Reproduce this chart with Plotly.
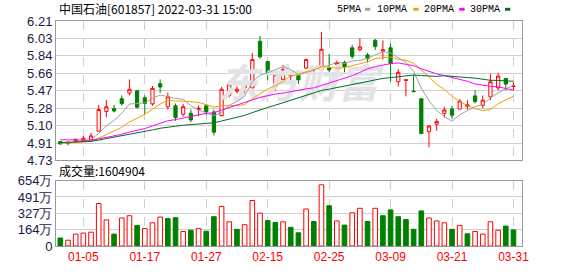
import plotly.graph_objects as go

# ---------------- data ----------------
dates = ["12-30", "12-31", "01-04", "01-05", "01-06", "01-07", "01-10", "01-11", "01-12", "01-13",
         "01-14", "01-17", "01-18", "01-19", "01-20", "01-21", "01-24", "01-25", "01-26", "01-27",
         "01-28", "02-07", "02-08", "02-09", "02-10", "02-11", "02-14", "02-15", "02-16", "02-17",
         "02-18", "02-21", "02-22", "02-23", "02-24", "02-25", "02-28", "03-01", "03-02", "03-03",
         "03-04", "03-07", "03-08", "03-09", "03-10", "03-11", "03-14", "03-15", "03-16", "03-17",
         "03-18", "03-21", "03-22", "03-23", "03-24", "03-25", "03-28", "03-29", "03-30", "03-31"]

opens = [4.93, 4.91, 4.93, 4.94, 4.95, 5.04, 5.25, 5.28, 5.385, 5.445,
         5.47, 5.395, 5.33, 5.545, 5.30, 5.31, 5.22, 5.23, 5.27, 5.31,
         5.245, 5.205, 5.42, 5.465, 5.50, 5.50, 5.995, 5.78, 5.51, 5.59,
         5.625, 5.66, 5.71, 5.715, 5.69, 5.71, 5.75, 5.77, 5.925, 5.905,
         5.85, 6.005, 5.89, 5.925, 5.565, 5.58, 5.465, 5.385, 5.035, 5.115,
         5.23, 5.275, 5.275, 5.305, 5.415, 5.315, 5.405, 5.50, 5.60, 5.515]
highs = [4.935, 4.935, 4.96, 4.99, 5.025, 5.32, 5.37, 5.32, 5.42, 5.59,
         5.47, 5.42, 5.52, 5.59, 5.45, 5.335, 5.33, 5.27, 5.31, 5.33,
         5.27, 5.51, 5.56, 5.515, 5.56, 5.87, 6.05, 5.78, 5.675, 5.745,
         5.675, 5.685, 5.81, 5.725, 6.095, 5.86, 5.79, 5.79, 5.957, 6.025,
         5.87, 6.02, 6.005, 5.97, 5.70, 5.59, 5.64, 5.385, 5.105, 5.17,
         5.30, 5.31, 5.38, 5.37, 5.475, 5.42, 5.65, 5.66, 5.60, 5.56]
lows = [4.90, 4.89, 4.93, 4.935, 4.945, 5.04, 5.19, 5.24, 5.31, 5.42,
        5.28, 5.225, 5.31, 5.445, 5.27, 5.15, 5.195, 5.135, 5.20, 5.21,
        4.995, 5.20, 5.40, 5.44, 5.44, 5.49, 5.81, 5.585, 5.465, 5.55,
        5.54, 5.54, 5.70, 5.60, 5.665, 5.63, 5.72, 5.665, 5.808, 5.89,
        5.77, 5.90, 5.80, 5.565, 5.515, 5.41, 5.46, 5.015, 4.87, 5.045,
        5.185, 5.175, 5.275, 5.27, 5.335, 5.285, 5.37, 5.475, 5.475, 5.475]
closes = [4.905, 4.915, 4.955, 4.965, 4.99, 5.27, 5.30, 5.255, 5.335, 5.485,
          5.295, 5.335, 5.495, 5.51, 5.405, 5.185, 5.30, 5.16, 5.285, 5.245,
          5.03, 5.485, 5.535, 5.485, 5.525, 5.80, 5.83, 5.66, 5.64, 5.695,
          5.64, 5.585, 5.80, 5.70, 5.91, 5.69, 5.77, 5.725, 5.835, 5.935,
          5.81, 5.94, 5.905, 5.76, 5.665, 5.585, 5.46, 5.015, 5.095, 5.145,
          5.265, 5.21, 5.36, 5.32, 5.355, 5.37, 5.565, 5.625, 5.54, 5.52]

# closes of the sessions before the window (estimated from the starting MA levels)
prior_closes = [4.85, 4.86, 4.88, 4.87, 4.85, 4.86, 4.87, 4.86, 4.85, 4.87,
                4.97, 4.99, 4.98, 4.97, 4.99, 4.98, 4.97, 4.98, 4.99, 4.98,
                4.93, 4.92, 4.91, 4.92, 4.93, 4.92, 4.91, 4.92, 4.92]
prev_close = 4.93

# volume in 万 (10k lots)
volumes = [80, 58, 119, 129, 138, 425, 261, 119, 280, 303,
           206, 174, 232, 290, 274, 283, 145, 158, 174, 148,
           293, 396, 242, 167, 213, 455, 329, 254, 235, 242,
           187, 132, 370, 245, 612, 402, 251, 209, 332, 377,
           245, 377, 303, 361, 293, 264, 167, 351, 280, 251,
           232, 167, 206, 122, 145, 119, 242, 158, 199, 160.4904]
last_volume = 1604904

price_tickvals = [4.73, 4.915, 5.10, 5.285, 5.47, 5.655, 5.84, 6.025, 6.21]
price_ticktext = ["4.73", "4.91", "5.10", "5.28", "5.47", "5.66", "5.84", "6.03", "6.21"]
vol_tickvals = [0, 163.5, 327, 490.5, 654]
vol_ticktext = ["0", "164万", "327万", "491万", "654万"]
date_ticks = ["01-05", "01-17", "01-27", "02-15", "02-25", "03-09", "03-21", "03-31"]

ma_specs = [("5PMA", 5, "#a0a0a0"), ("10PMA", 10, "#f0a000"),
            ("20PMA", 20, "#ff00ff"), ("30PMA", 30, "#006b2e")]

RED = "#ff0000"
GREEN = "#008000"
LABEL = "#1a1a46"

# ---------------- figure ----------------
W, H = 578, 276
ML, MR, MT, MB = 56, 56, 21, 21
PW, PH = W - ML - MR, H - MT - MB


def px_x(px):
    return (px - ML) / PW


def px_y(py):
    return (H - MB - py) / PH


fig = go.Figure()

# watermark (behind the candles)
fig.add_trace(go.Scatter(x=[dates[31]], y=[5.50], mode="text", text=["<b><i>东方财富</i></b>"],
                         textfont=dict(family="Noto Sans CJK SC", size=40, color="#e3e3e7"),
                         xaxis="x", yaxis="y", hoverinfo="skip", showlegend=False))

fig.add_trace(go.Candlestick(
    x=dates, open=opens, high=highs, low=lows, close=closes,
    increasing=dict(line=dict(color=RED, width=1), fillcolor="white"),
    decreasing=dict(line=dict(color=GREEN, width=1), fillcolor=GREEN),
    whiskerwidth=0, xaxis="x", yaxis="y", showlegend=False))

series = prior_closes + closes
n0 = len(prior_closes)
for name, n, color in ma_specs:
    ma = [sum(series[n0 + i - n + 1:n0 + i + 1]) / n for i in range(len(closes))]
    fig.add_trace(go.Scatter(x=dates, y=ma, mode="lines", name=name,
                             line=dict(color=color, width=1),
                             xaxis="x", yaxis="y", showlegend=False))

ups = []
for i, c in enumerate(closes):
    pc = prev_close if i == 0 else closes[i - 1]
    ups.append(c >= pc)

fig.add_trace(go.Bar(
    x=dates, y=volumes, width=0.6,
    marker=dict(color=["white" if u else GREEN for u in ups],
                line=dict(color=[RED if u else GREEN for u in ups], width=1)),
    xaxis="x2", yaxis="y2", showlegend=False))

xr = [-0.56, 60.11]
common_x = dict(range=xr, type="category", categoryorder="array", categoryarray=dates,
                tickvals=date_ticks, showgrid=True,
                griddash="dash", gridcolor="#cfcfcf", gridwidth=1,
                showline=True, mirror=True, linecolor="#999999", linewidth=1,
                ticks="", zeroline=False, fixedrange=True)

annotations = [
    dict(text="中国石油[601857] 2022-03-31 15:00", x=px_x(57), y=px_y(8.5), xref="paper", yref="paper",
         xanchor="left", yanchor="middle", showarrow=False,
         font=dict(family="Noto Sans CJK SC", size=12, color="#000000")),
    dict(text="成交量:" + str(last_volume), x=px_x(57), y=px_y(176.5), xref="paper", yref="paper",
         xanchor="left", yanchor="middle", showarrow=False,
         font=dict(family="Noto Sans CJK SC", size=12, color="#000000")),
]
shapes = []
legend_pos = [(362.7, 365), (409.3, 413.3), (455.7, 459.3), (501.7, 505)]
for (name, n, color), (tx, sx) in zip(ma_specs, legend_pos):
    annotations.append(dict(text=name, x=px_x(tx), y=px_y(9), xref="paper", yref="paper",
                            xanchor="right", yanchor="middle", showarrow=False,
                            font=dict(family="Liberation Mono", size=10, color="#000000")))
    shapes.append(dict(type="rect", xref="paper", yref="paper",
                       x0=px_x(sx), x1=px_x(sx + 5.3), y0=px_y(10.3), y1=px_y(7.3),
                       fillcolor=color, line=dict(width=0)))

fig.update_layout(
    width=W, height=H, margin=dict(l=ML, r=MR, t=MT, b=MB),
    paper_bgcolor="white", plot_bgcolor="white", showlegend=False,
    boxgap=0.4,
    xaxis=dict(common_x, anchor="y", showticklabels=False, rangeslider=dict(visible=False)),
    xaxis2=dict(common_x, anchor="y2", showticklabels=True,
                tickfont=dict(family="Liberation Sans", size=12, color=RED)),
    yaxis=dict(domain=[px_y(166), 1], range=[4.73, 6.21], tickvals=price_tickvals,
               ticktext=price_ticktext, showgrid=True, gridcolor="#d0d0d0", gridwidth=1,
               showline=True, mirror=True, linecolor="#999999", linewidth=1, zeroline=False,
               tickfont=dict(family="Liberation Sans", size=13, color=LABEL), ticks="",
               fixedrange=True),
    yaxis2=dict(domain=[0, px_y(187)], range=[0, 654], tickvals=vol_tickvals,
                ticktext=vol_ticktext, showgrid=True, gridcolor="#d0d0d0", gridwidth=1,
                showline=True, mirror=True, linecolor="#999999", linewidth=1, zeroline=False,
                tickfont=dict(family="Liberation Sans", size=13, color=LABEL), ticks="",
                fixedrange=True),
    annotations=annotations, shapes=shapes,
)

fig.write_html("out.html", config={"displayModeBar": False})
